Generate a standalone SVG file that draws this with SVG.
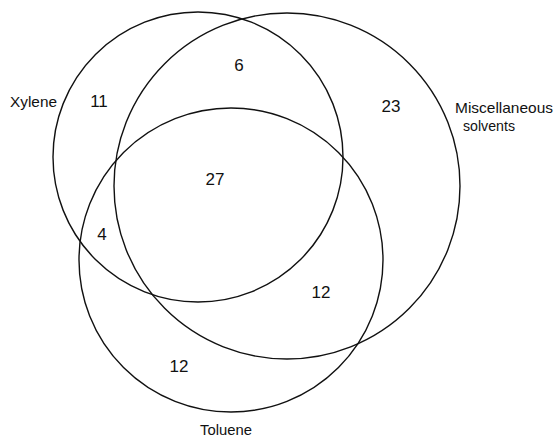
<svg xmlns="http://www.w3.org/2000/svg" width="557" height="438" viewBox="0 0 557 438">
<style>
.c{fill:none;stroke:#111;stroke-width:1.4}
.n{font-family:"Liberation Sans",Arial,sans-serif;font-size:17px;fill:#111;text-anchor:middle}
.l{font-family:"Liberation Sans",Arial,sans-serif;font-size:14.5px;fill:#111}
</style>
<rect width="557" height="438" fill="#fff"/>
<g id="xylene">
<circle class="c" cx="198" cy="157" r="145"/>
<text class="l" x="10" y="107" textLength="47" lengthAdjust="spacingAndGlyphs">Xylene</text>
</g>
<g id="misc">
<circle class="c" cx="287" cy="186" r="173"/>
<text class="l" x="455" y="113" textLength="98" lengthAdjust="spacingAndGlyphs">Miscellaneous</text>
<text class="l" x="463" y="131" textLength="52" lengthAdjust="spacingAndGlyphs">solvents</text>
</g>
<g id="toluene">
<circle class="c" cx="231" cy="260" r="152"/>
<text class="l" x="200" y="435" textLength="52" lengthAdjust="spacingAndGlyphs">Toluene</text>
</g>
<g id="counts">
<text class="n" x="99" y="107">11</text>
<text class="n" x="239" y="71">6</text>
<text class="n" x="215" y="185">27</text>
<text class="n" x="391" y="112">23</text>
<text class="n" x="102" y="240">4</text>
<text class="n" x="321" y="298">12</text>
<text class="n" x="179" y="372">12</text>
</g>
<g id="connectors"></g>
</svg>
